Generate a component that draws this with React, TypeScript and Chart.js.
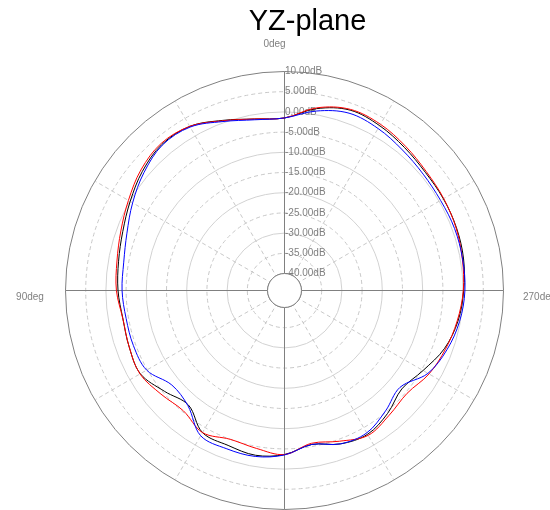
import React, { useEffect, useRef } from "react";
import { Chart, registerables } from "chart.js";

Chart.register(...registerables);

// Pattern angles (deg, counter-clockwise from top: 0deg top, 90deg left, 270deg right)
const angles = [0, 10, 20, 30, 40, 50, 60, 70, 80, 90, 100, 110, 120, 130, 140, 150, 160, 170,
  180, 190, 200, 210, 220, 230, 240, 250, 260, 270, 280, 290, 300, 310, 320, 330, 340, 350];

// Gain values in dB, one per angle
const blackSeries = [-1.5, -1.1, 0.6, 2.7, 3.0, 1.7, -0.1, -1.6, -2.5, -3.0, -3.6, -3.3, -3.0, -5.4, -7.2, -3.6, -3.4, -2.8,
  -3.6, -5.5, -3.8, -3.1, -4.5, -6.3, -4.6, -2.1, -0.6, 0.15, 0.8, 1.1, 1.2, 1.3, 2.0, 2.9, 3.3, 1.5];
const redSeries = [-1.5, -1.1, 0.5, 2.7, 3.3, 2.2, 0.4, -1.1, -2.1, -2.6, -3.6, -3.3, -2.9, -4.3, -5.3, -3.6, -5.0, -4.5,
  -3.6, -5.8, -4.5, -2.8, -3.9, -4.6, -2.9, -1.8, -0.8, 0.05, 0.5, 1.0, 1.3, 1.6, 2.4, 3.3, 3.5, 1.7];
const blueSeries = [-1.5, -1.3, 0.3, 2.5, 2.8, 1.2, -0.8, -2.7, -3.8, -4.0, -4.4, -4.4, -4.8, -7.8, -7.0, -2.7, -2.5, -2.5,
  -3.5, -5.5, -3.8, -3.5, -5.3, -6.9, -3.2, -1.4, -0.2, 0.45, 0.55, 0.6, 0.4, 0.6, 1.2, 2.1, 2.5, 0.9];

const titleText = "YZ-plane";
const directionLabels = ["0deg", "90deg", "270deg"];
const R_MIN = -44.2; // leaves the small centre circle at -40 dB
const R_MAX = 10;
const TICK_STEP = 5;

// Radar draws clockwise from the top; the pattern runs counter-clockwise,
// so position i (clockwise i*10deg) shows angle (360 - i*10) mod 360.
function clockwise(series: number[]) {
  return angles.map((_, i) => series[(angles.length - i) % angles.length]);
}

const CX = 284.5;
const CY = 290.5;
const RADIUS = 219;

const overlay = {
  id: "overlay",
  beforeDatasetsDraw(chart: any) {
    const s = chart.scales.r;
    const ctx = chart.ctx;
    ctx.save();
    // small centre circle
    const r0 = s.getDistanceFromCenterForValue(-40);
    ctx.beginPath();
    ctx.arc(s.xCenter, s.yCenter, r0, 0, Math.PI * 2);
    ctx.fillStyle = "#ffffff";
    ctx.fill();
    ctx.strokeStyle = "#808080";
    ctx.lineWidth = 1;
    ctx.stroke();
    // tick labels
    ctx.font = "10px Arial, 'Liberation Sans', sans-serif";
    ctx.fillStyle = "#808080";
    ctx.textAlign = "left";
    ctx.textBaseline = "middle";
    s.ticks.forEach((t: any) => {
      const d = s.getDistanceFromCenterForValue(t.value);
      ctx.fillText(t.value.toFixed(2) + "dB", s.xCenter + 0.5, s.yCenter - d);
    });
    ctx.restore();
  },
  afterDraw(chart: any) {
    const s = chart.scales.r;
    const ctx = chart.ctx;
    ctx.save();
    ctx.fillStyle = "#000000";
    ctx.font = "29px Arial, 'Liberation Sans', sans-serif";
    ctx.textAlign = "center";
    ctx.textBaseline = "alphabetic";
    ctx.fillText(titleText, 307.5, 30);
    ctx.font = "10px Arial, 'Liberation Sans', sans-serif";
    ctx.fillStyle = "#808080";
    ctx.textBaseline = "middle";
    ctx.textAlign = "center";
    ctx.fillText(directionLabels[0], s.xCenter - 10, 44);
    ctx.fillText(directionLabels[1], 30, s.yCenter + 7);
    ctx.textAlign = "left";
    ctx.fillText(directionLabels[2], 523, s.yCenter + 7);
    ctx.restore();
  },
};

export default function App() {
  const ref = useRef<HTMLCanvasElement | null>(null);
  useEffect(() => {
    if (!ref.current) return;
    const labels = angles.map((a) => String((360 - a) % 360));
    const chart = new Chart(ref.current, {
      type: "radar",
      data: {
        labels,
        datasets: [
          { label: "blue", data: clockwise(blueSeries), borderColor: "#0000ff", backgroundColor: "transparent", fill: false },
          { label: "red", data: clockwise(redSeries), borderColor: "#ff0000", backgroundColor: "transparent", fill: false },
          { label: "black", data: clockwise(blackSeries), borderColor: "#000000", backgroundColor: "transparent", fill: false },
        ],
      },
      options: {
        responsive: false,
        animation: false,
        layout: { padding: 0 },
        plugins: { legend: { display: false }, tooltip: { enabled: false }, title: { display: false } },
        elements: { point: { radius: 0, hoverRadius: 0 }, line: { borderWidth: 1, tension: 0.35 } },
        scales: {
          r: {
            min: R_MIN,
            max: R_MAX,
            beginAtZero: false,
            afterFit: (s: any) => {
              s.xCenter = CX;
              s.yCenter = CY;
              s.drawingArea = RADIUS;
            },
            ticks: { display: false, stepSize: TICK_STEP, includeBounds: false },
            pointLabels: { display: false },
            grid: {
              circular: true,
              lineWidth: 1,
              color: (c: any) => {
                const v = c.tick ? c.tick.value : 0;
                if (v === R_MAX || v === -40) return "#808080";
                return v % 10 === 0 ? "#d2d2d2" : "#c8c8c8";
              },
            },
            border: {
              dash: (c: any) => {
                const v = c.tick ? c.tick.value : 0;
                return Math.abs(v % 10) === 5 ? [4, 3] : [];
              },
            },
            angleLines: {
              display: true,
              color: (c: any) => (c.index % 9 === 0 ? "#808080" : "#c8c8c8"),
              lineWidth: (c: any) => (c.index % 3 === 0 ? 1 : 0),
              borderDash: (c: any) => (c.index % 9 === 0 ? [] : [4, 3]),
            },
          },
        },
      } as any,
      plugins: [overlay],
    });
    return () => chart.destroy();
  }, []);
  return (
    <div style={{ position: "absolute", left: 0, top: 0, width: 550, height: 510 }}>
      <canvas ref={ref} width={550} height={510} style={{ display: "block", width: 550, height: 510 }} />
    </div>
  );
}
